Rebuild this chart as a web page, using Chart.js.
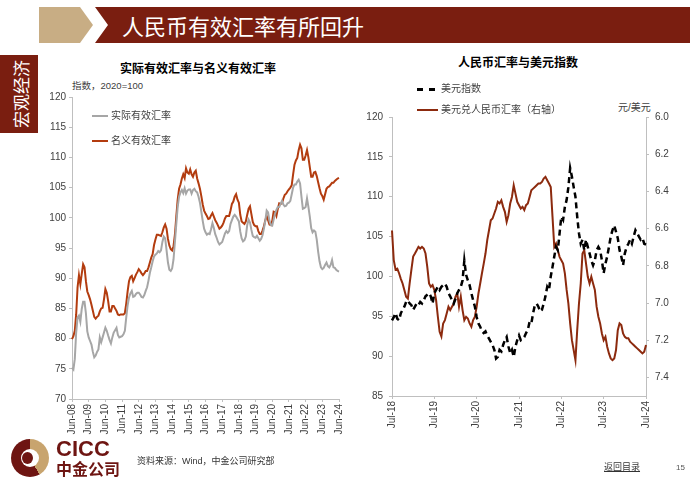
<!DOCTYPE html>
<html>
<head>
<meta charset="utf-8">
<script src="https://cdn.jsdelivr.net/npm/chart.js@4.4.1/dist/chart.umd.min.js"></script>
<style>
  html, body { margin: 0; padding: 0; background: #fff; }
  body { font-family: "Liberation Sans", Arial, "Noto Sans CJK SC", sans-serif; color: #262626; }
  #page { position: relative; width: 700px; height: 490px; overflow: hidden; }
  .abs { position: absolute; white-space: nowrap; }
  canvas { position: absolute; }
  .lbl { font-size: 10px; color: #404040; line-height: 12px; }
  .ttl { font-size: 12px; font-weight: bold; color: #000; line-height: 14px; font-family: "Noto Sans CJK SC", sans-serif; }
</style>
</head>
<body>
<div id="page">
  <!-- header banner -->
  <svg class="abs" style="left:0;top:0" width="700" height="50">
    <polygon points="39,7 80,7 93,25 80,43 39,43" fill="#C8AD84"/>
    <polygon points="95,7 690,7 690,43 95,43 108,25" fill="#7A1E10"/>
  </svg>
  <div class="abs" style="left:122px;top:11px;font-size:22px;line-height:28px;color:#fff;font-family:'Noto Sans CJK SC',sans-serif;">人民币有效汇率有所回升</div>

  <!-- side tab -->
  <div class="abs" style="left:0;top:55px;width:38px;height:78px;background:#7A1E10;"></div>
  <div class="abs" style="left:21px;top:94px;transform:translate(-50%,-50%) rotate(-90deg);font-size:17px;line-height:20px;color:#fff;font-family:'Noto Sans CJK SC',sans-serif;">宏观经济</div>

  <!-- left chart texts -->
  <div class="abs ttl" style="left:120px;top:61px;">实际有效汇率与名义有效汇率</div>
  <div class="abs lbl" style="left:72px;top:80px;font-size:9.5px;">指数，2020=100</div>

  <!-- right chart texts -->
  <div class="abs ttl" style="left:458px;top:55px;">人民币汇率与美元指数</div>
  <div class="abs lbl" style="left:618px;top:102px;">元/美元</div>

  <canvas id="eerChart" width="314" height="360" style="left:36px;top:90px;"></canvas>
  <canvas id="fxChart" width="340" height="345" style="left:345px;top:100px;"></canvas>

  <!-- legends -->
  <div class="abs" style="left:92px;top:115px;width:16px;height:2px;background:#A6A6A6;"></div>
  <div class="abs lbl" style="left:111px;top:110px;">实际有效汇率</div>
  <div class="abs" style="left:92px;top:140px;width:16px;height:2px;background:#B33C0F;"></div>
  <div class="abs lbl" style="left:111px;top:135px;">名义有效汇率</div>

  <div class="abs" style="left:417px;top:88px;width:6px;height:2.5px;background:#000;"></div>
  <div class="abs" style="left:429px;top:88px;width:6px;height:2.5px;background:#000;"></div>
  <div class="abs lbl" style="left:441px;top:83px;">美元指数</div>
  <div class="abs" style="left:417px;top:109px;width:21px;height:2px;background:#8C2A0E;"></div>
  <div class="abs lbl" style="left:441px;top:104px;">美元兑人民币汇率（右轴）</div>

  <!-- footer -->
  <div class="abs" style="left:11px;top:439px;width:38px;height:38px;border-radius:50%;background:conic-gradient(#C8A46E 0deg 150deg,#6E1512 150deg 360deg);"></div>
  <div class="abs" style="left:21px;top:449px;width:18px;height:18px;border-radius:50%;background:#fff;"></div>
  <div class="abs" style="left:22px;top:452px;width:11px;height:12px;border-radius:50%;background:#6E1512;"></div>
  <div class="abs" style="left:56px;top:438px;font-size:22px;line-height:22px;font-weight:bold;color:#6E1512;">CICC</div>
  <div class="abs" style="left:56px;top:459px;font-size:16px;line-height:18px;font-weight:bold;color:#6E1512;font-family:'Noto Sans CJK SC',sans-serif;">中金公司</div>
  <div class="abs" style="left:137px;top:456px;font-size:9px;line-height:11px;color:#333;">资料来源：Wind，中金公司研究部</div>
  <div class="abs" style="left:604px;top:462px;font-size:9px;line-height:11px;color:#333;text-decoration:underline;">返回目录</div>
  <div class="abs" style="left:676px;top:462px;font-size:8px;line-height:11px;color:#555;">15</div>
</div>

<script>
// ---- left chart: monthly, Jun-08 .. Jun-24, index 2020=100
const realEER = [
  75.2, 74.9, 76.6, 81, 83.5, 83.8, 82.8, 84.9, 86.1, 86.1, 84.2, 81.2,
  80.2, 79.6, 79, 77.8, 76.9, 77.2, 77.8, 78.2, 80.2, 79.4, 80.2, 81,
  81.8, 81.3, 80.5, 79.8, 79.2, 80.2, 81, 81.4, 81.8, 80.6, 80.2, 80.3,
  80.4, 80.7, 81.3, 83.5, 85.5, 86.8, 87.5, 87.9, 86.9, 87, 87.4, 87.6,
  87.6, 87.3, 86.9, 86.8, 87.2, 87.9, 88.5, 89.6, 90.9, 91.8, 92.8, 93.6,
  93.9, 94.1, 94.5, 94.3, 94.6, 96, 96.9, 96.6, 94.6, 92.6, 91.4, 91.2,
  91.6, 93.1, 96, 99, 101.8, 103.5, 104.2, 104.6, 104.1, 104.9, 104, 104.5,
  104.7, 104.7, 104, 104.6, 104.8, 104.4, 104.2, 103.5, 102.5, 101, 99.5, 98.2,
  97.6, 97.2, 97.4, 97.3, 98.1, 99.1, 98.3, 97.3, 96.7, 96, 95.6, 95.8,
  96, 96.7, 97.4, 97.8, 97.5, 97.8, 99, 99.6, 100.2, 100.5, 100.2, 99.8,
  99.4, 97.7, 96.6, 96.1, 96.3, 96.9, 98.8, 99.7, 99.2, 98, 97, 96.8,
  96.7, 97, 96.6, 96.2, 96.5, 97.1, 98.2, 99.5, 101.2, 100.9, 99.5, 98.8,
  98.7, 99.7, 100.7, 101.3, 101.8, 101.8, 102.3, 102.8, 102.2, 101.9, 102, 102.4,
  102.5, 102.8, 103.9, 105, 105.5, 105.5, 106, 106.3, 105.7, 103.5, 101.5, 101.6,
  101.8, 103.2, 101.8, 100.2, 98.3, 97.6, 97.9, 97.7, 96.4, 94.4, 92.8, 91.8,
  91.5, 91.7, 92.2, 92.6, 92, 91.8, 92.2, 93, 91.8, 91.7, 91.4, 91.2, 91.1
];
const nominalEER = [
  79.9, 80.4, 81.3, 84, 88.5, 90.5, 89, 90.7, 92.3, 91.8, 89.5, 87.8,
  87.2, 86.5, 85.6, 84.6, 83.6, 83.3, 83.6, 83.8, 84.5, 85, 85.1, 86.5,
  88.2, 87.6, 86.2, 84.5, 84.5, 85.4, 85.4, 85, 84.6, 84, 83.9, 84,
  84, 84, 84.2, 85.8, 87.8, 89.5, 90.2, 90.4, 89.5, 90, 90.6, 91,
  91.5, 91.2, 90.8, 90.5, 90.8, 91.2, 91.2, 91.8, 92.6, 93.4, 94, 95.5,
  96.4, 97.2, 97.2, 97.1, 97, 97.6, 98.4, 98.9, 98.2, 96.5, 95.4, 94.8,
  94.6, 95.3, 97.2, 100.2, 103, 104.8, 105.5, 106.5, 107.2, 106.6, 108.2, 107.5,
  107.3, 108, 107.2, 106.8, 107.5, 107.8, 106.5, 105.7, 104.8, 103.6, 102.2, 101.2,
  100.7, 100.3, 99.8, 99.9, 100.4, 100.8, 100.2, 99.6, 99.2, 98.7, 98.2, 98.4,
  98.7, 99.2, 99.9, 100.3, 100.3, 100.3, 101.2, 102.3, 102.7, 103.5, 103.9, 103,
  102.5, 100.5, 99.4, 99.2, 99, 99.4, 100.5, 101.5, 101.9, 100.6, 99.3, 98.8,
  98.6, 98.6, 97.8, 97.3, 97.3, 97.9, 98.6, 99.6, 100.3, 99.6, 98.9, 98.8,
  99.5, 101, 100.9, 100.3, 101.5, 102.4, 102.3, 102.4, 103.2, 103.8, 104, 104.4,
  104.7, 105, 105.4, 107.2, 108.8, 109.5, 109.9, 111.2, 112.1, 111.5, 109.6, 109.6,
  110.3, 111.2, 110, 108.4, 106.8, 106.8, 107.5, 107.6, 106.9, 105.9, 104.9, 104,
  103.6, 103, 103.9, 104.8, 105.1, 105.2, 105.5, 105.8, 105.8, 106.1, 106.3, 106.5, 106.6
];
const eerTicks = [70, 75, 80, 85, 90, 95, 100, 105, 110, 115, 120];

// ---- right chart: twice a month, Jul-18 .. Jul-24
const usdIndex = [
  94.5, 94.9, 95.4, 94.7, 94.5, 95.4, 95.8, 96.2, 96.8, 97, 96.6, 96.4,
  95.8, 96.2, 96.6, 96.4, 96.8, 96.6, 97, 97.5, 97.7, 97.9, 97.5, 96.6,
  97.9, 98.3, 98.7, 98.3, 98.7, 98.9, 99.1, 98.7, 97.9, 97.5, 97, 96.6,
  97.2, 97.9, 98.3, 98.7, 99.5, 102, 100.2, 99.5, 98.9, 97.9, 97, 96.2,
  94.9, 94.1, 93.7, 93.1, 92.9, 93.1, 92.6, 92.2, 91.8, 91.4, 90.8, 89.7,
  89.9, 90.8, 90.6, 91.4, 92, 92.4, 91.2, 90.4, 90.8, 89.9, 91.2, 92,
  92.6, 92, 92.2, 92.4, 92.9, 93.3, 94.3, 94.1, 95.4, 96.4, 96.6, 96.2,
  95.6, 95.8, 96.6, 97.5, 98.7, 98.3, 100, 101.2, 102.5, 103.7, 103.3, 105.4,
  107.5, 107.1, 108.7, 109.6, 111.2, 113.6, 112.5, 111.2, 110, 107.5, 105.4, 104.1,
  104.6, 103.3, 104.6, 103.7, 102.9, 102, 101.4, 102, 103.3, 103.7, 103.3, 102,
  100.4, 101.6, 102.5, 103.7, 105, 105.8, 106.4, 105.6, 104.8, 103.3, 102.5, 101.4,
  102.9, 103.7, 104.1, 104.6, 104.1, 105, 105.8, 105.4, 105, 104.6, 104.8, 104.1,
  104
];
const usdCny = [
  6.61, 6.77, 6.82, 6.815, 6.84, 6.87, 6.895, 6.93, 6.966, 6.976, 6.895, 6.82,
  6.75, 6.734, 6.716, 6.698, 6.707, 6.698, 6.707, 6.734, 6.806, 6.895, 6.913, 6.904,
  6.93, 6.985, 7.074, 7.155, 7.18, 7.11, 7.092, 7.056, 7.02, 7.038, 7.02, 7.003,
  6.966, 6.949, 7.02, 6.966, 7.038, 7.092, 7.074, 7.083, 7.11, 7.128, 7.092, 7.074,
  7.02, 6.949, 6.895, 6.84, 6.788, 6.734, 6.662, 6.609, 6.555, 6.546, 6.519, 6.492,
  6.456, 6.465, 6.448, 6.483, 6.51, 6.564, 6.528, 6.465, 6.43, 6.367, 6.412, 6.456,
  6.474, 6.492, 6.483, 6.5, 6.474, 6.465, 6.43, 6.394, 6.385, 6.376, 6.367, 6.358,
  6.358, 6.349, 6.331, 6.322, 6.34, 6.358, 6.376, 6.537, 6.698, 6.68, 6.716, 6.752,
  6.77, 6.788, 6.841, 6.93, 7.003, 7.11, 7.2, 7.253, 7.307, 7.146, 7.003, 6.895,
  6.734, 6.716, 6.788, 6.859, 6.895, 6.859, 6.895, 6.93, 7.02, 7.074, 7.11, 7.164,
  7.2, 7.182, 7.235, 7.271, 7.298, 7.307, 7.298, 7.253, 7.146, 7.11, 7.119, 7.164,
  7.182, 7.19, 7.19, 7.208, 7.217, 7.226, 7.235, 7.244, 7.253, 7.262, 7.271, 7.262,
  7.226
];
const usdTicks = [85, 90, 95, 100, 105, 110, 115, 120];
const cnyTicks = [6.0, 6.2, 6.4, 6.6, 6.8, 7.0, 7.2, 7.4];

const monthNames = ['Jan', 'Feb', 'Mar', 'Apr', 'May', 'Jun', 'Jul', 'Aug', 'Sep', 'Oct', 'Nov', 'Dec'];

// category labels: one per month from 2008-06, two per month from 2018-07
const eerMonths = realEER.map(function(v, i) {
  const mm = 5 + i;
  return (2008 + Math.floor(mm / 12)) + '-' + (mm % 12 + 1);
});
const fxDates = usdIndex.map(function(v, i) {
  const mm = 6 + Math.floor(i / 2);
  return (2018 + Math.floor(mm / 12)) + '-' + (mm % 12 + 1) + (i % 2 ? '-b' : '-a');
});

function axisLabel(str, month) {
  const p = str.split('-');
  if (+p[1] !== month || p[2] === 'b') return null;
  return monthNames[month - 1] + '-' + p[0].slice(2);
}

Chart.defaults.font.family = '"Liberation Sans", Arial, "Noto Sans CJK SC", sans-serif';
Chart.defaults.font.size = 10;
Chart.defaults.color = '#404040';

const axisGray = '#BFBFBF';

function fixedTicks(list) {
  return function(scale) { scale.ticks = list.map(function(v) { return { value: v }; }); };
}
function fitWidth(w) {
  return function(scale) { scale.width = w; scale.paddingTop = 0; scale.paddingBottom = 0; };
}
function fitHeight(h) {
  return function(scale) { scale.height = h; scale.paddingLeft = 0; scale.paddingRight = 0; };
}

const eerCtx = document.getElementById('eerChart').getContext('2d');
new Chart(eerCtx, {
  type: 'line',
  data: {
    labels: eerMonths,
    datasets: [{
      label: '实际有效汇率',
      data: realEER,
      borderColor: '#A6A6A6',
      borderWidth: 2,
      pointRadius: 0
    }, {
      label: '名义有效汇率',
      data: nominalEER,
      borderColor: '#B33C0F',
      borderWidth: 2,
      pointRadius: 0
    }]
  },
  options: {
    responsive: false,
    animation: false,
    layout: { padding: { top: 7, right: 11, left: 0, bottom: 0 } },
    plugins: { legend: { display: false }, tooltip: { enabled: false } },
    scales: {
      x: {
        afterFit: fitHeight(51),
        grid: { drawOnChartArea: false, tickLength: 3, color: axisGray },
        border: { color: axisGray },
        ticks: {
          autoSkip: false, minRotation: 90, maxRotation: 90, padding: 2,
          callback: function(v, i) { return axisLabel(eerMonths[i], 6); }
        }
      },
      y: {
        min: 70, max: 120,
        afterBuildTicks: fixedTicks(eerTicks),
        afterFit: fitWidth(36),
        grid: { drawOnChartArea: false, tickLength: 3, color: axisGray },
        border: { color: axisGray },
        ticks: { padding: 3 }
      }
    }
  }
});

const fxCtx = document.getElementById('fxChart').getContext('2d');
new Chart(fxCtx, {
  type: 'line',
  data: {
    labels: fxDates,
    datasets: [{
      label: '美元指数',
      data: usdIndex,
      borderColor: '#000000',
      borderWidth: 2.5,
      borderDash: [6, 4],
      pointRadius: 0,
      yAxisID: 'y'
    }, {
      label: '美元兑人民币汇率（右轴）',
      data: usdCny,
      borderColor: '#8C2A0E',
      borderWidth: 2,
      pointRadius: 0,
      yAxisID: 'y1'
    }]
  },
  options: {
    responsive: false,
    animation: false,
    layout: { padding: { top: 17, right: 0, left: 0, bottom: 0 } },
    plugins: { legend: { display: false }, tooltip: { enabled: false } },
    scales: {
      x: {
        afterFit: fitHeight(49),
        grid: { drawOnChartArea: false, tickLength: 3, color: axisGray },
        border: { color: axisGray },
        ticks: {
          autoSkip: false, minRotation: 90, maxRotation: 90, padding: 2,
          callback: function(v, i) { return axisLabel(fxDates[i], 7); }
        }
      },
      y: {
        position: 'left',
        min: 85, max: 120,
        afterBuildTicks: fixedTicks(usdTicks),
        afterFit: fitWidth(47),
        grid: { drawOnChartArea: false, tickLength: 3, color: axisGray },
        border: { color: axisGray },
        ticks: { padding: 6 }
      },
      y1: {
        position: 'right',
        reverse: true,
        min: 6.0, max: 7.5,
        afterBuildTicks: fixedTicks(cnyTicks),
        afterFit: fitWidth(39),
        grid: { drawOnChartArea: false, tickLength: 3, color: axisGray },
        border: { color: axisGray },
        ticks: {
          padding: 6,
          callback: function(v) { return v.toFixed(1); }
        }
      }
    }
  }
});
</script>
</body>
</html>
